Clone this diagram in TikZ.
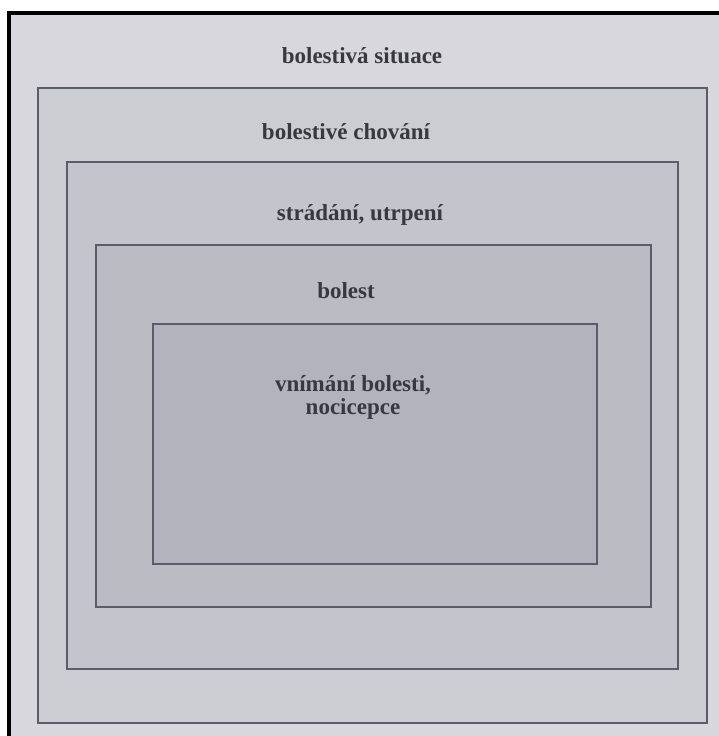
\documentclass[tikz,border=0pt]{standalone}
\usepackage{fontspec}
\setmainfont{Liberation Serif}
\usetikzlibrary{shapes}

\definecolor{papir}{HTML}{D7D7DD}
\definecolor{vrstvaA}{HTML}{CCCCD3}
\definecolor{vrstvaB}{HTML}{C4C4CC}
\definecolor{vrstvaC}{HTML}{BBBBC4}
\definecolor{vrstvaD}{HTML}{B3B3BD}
\definecolor{cara}{HTML}{5C5C68}
\definecolor{pismo}{HTML}{38383F}

\tikzstyle{ramec} = [
    rectangle,
    anchor = north west,
    inner sep = 0pt,
    draw = cara,
    line width = 1.6pt,
]
\tikzstyle{popisek} = [
    anchor = base,
    text = pismo,
    font = \fontsize{23}{23}\selectfont\bfseries,
    align = center,
]

\begin{document}
\begin{tikzpicture} [x = 1pt, y = -1pt]
    \useasboundingbox (0, 0) rectangle (719, 736);
    \fill[papir] (11, 15) rectangle (719, 736);
    \fill[black] (7, 11) rectangle (719, 15);
    \fill[black] (7, 11) rectangle (11, 736);

    \node (Situace) [ramec, fill = vrstvaA, minimum width = 669pt, minimum height = 635pt] at (37, 87) {};
    \node (Chovani) [ramec, fill = vrstvaB, minimum width = 611pt, minimum height = 507pt] at (66, 161) {};
    \node (Utrpeni) [ramec, fill = vrstvaC, minimum width = 555pt, minimum height = 362pt] at (95, 244) {};
    \node (Nocicepce) [ramec, fill = vrstvaD, minimum width = 444pt, minimum height = 240pt] at (152, 323) {};

    \node (TextSituace) [popisek] at (362, 63) {bolestivá situace};
    \node (TextChovani) [popisek] at (346, 139) {bolestivé chování};
    \node (TextUtrpeni) [popisek] at (360, 220) {strádání, utrpení};
    \node (TextBolest) [popisek] at (346, 298) {bolest};
    % base is the last line here
    \node (TextNocicepce) [popisek] at (353, 414) {vnímání bolesti,\\nocicepce};
\end{tikzpicture}
\end{document}
